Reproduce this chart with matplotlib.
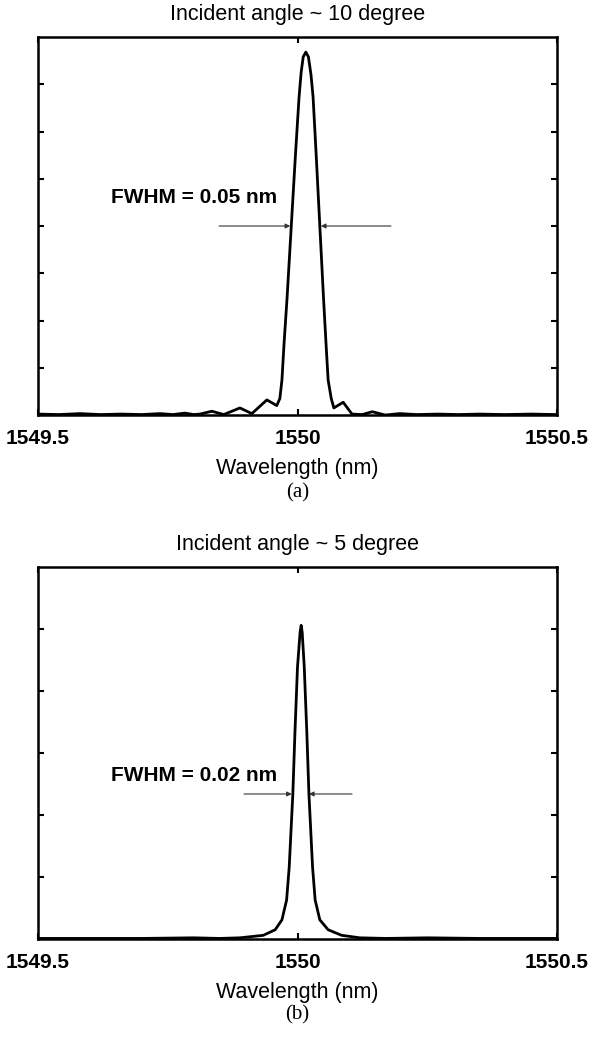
import matplotlib
matplotlib.use("Agg")
import matplotlib.pyplot as plt

# panel (a): incident angle ~10 degree
wl_a = [1549.500, 1549.540, 1549.581, 1549.620, 1549.660, 1549.700, 1549.735,
        1549.760, 1549.783, 1549.800, 1549.812, 1549.835, 1549.858, 1549.889,
        1549.912, 1549.941, 1549.960, 1549.966, 1549.970, 1549.974, 1549.980,
        1549.988, 1549.996, 1550.003, 1550.007, 1550.011, 1550.016, 1550.021,
        1550.026, 1550.030, 1550.036, 1550.043, 1550.050, 1550.055, 1550.059,
        1550.065, 1550.070, 1550.088, 1550.105, 1550.125, 1550.144, 1550.169,
        1550.197, 1550.230, 1550.270, 1550.310, 1550.350, 1550.400, 1550.450,
        1550.500]
amp_a = [0.02, 0.01, 0.03, 0.01, 0.02, 0.01, 0.03,
         0.01, 0.04, 0.01, 0.02, 0.08, 0.01, 0.15,
         0.03, 0.32, 0.20, 0.35, 0.74, 1.50, 2.50,
         4.00, 5.50, 6.73, 7.25, 7.58, 7.68, 7.58,
         7.20, 6.73, 5.50, 4.00, 2.50, 1.50, 0.74,
         0.35, 0.15, 0.27, 0.02, 0.01, 0.07, 0.00,
         0.03, 0.01, 0.02, 0.01, 0.02, 0.01, 0.02,
         0.01]

# panel (b): incident angle ~5 degree
wl_b = [1549.500, 1549.600, 1549.700, 1549.800, 1549.850, 1549.889, 1549.934,
        1549.957, 1549.970, 1549.979, 1549.984, 1549.991, 1549.995, 1550.000,
        1550.005, 1550.007, 1550.009, 1550.013, 1550.018, 1550.022, 1550.029,
        1550.034, 1550.043, 1550.059, 1550.085, 1550.120, 1550.170, 1550.250,
        1550.350, 1550.500]
amp_b = [0.01, 0.01, 0.01, 0.02, 0.01, 0.02, 0.06,
         0.15, 0.31, 0.63, 1.16, 2.34, 3.32, 4.39,
         4.95, 5.06, 4.95, 4.39, 3.32, 2.34, 1.16,
         0.63, 0.31, 0.15, 0.06, 0.02, 0.01, 0.02,
         0.01, 0.01]

xticks = [1549.5, 1550, 1550.5]
xtick_labels = ["1549.5", "1550", "1550.5"]

panels = [
    dict(x=wl_a, y=amp_a, ymax=8, title="Incident angle ~ 10 degree",
         fwhm="FWHM = 0.05 nm", arrow_y=4.0,
         left_arrow=(1549.849, 1549.986), right_arrow=(1550.180, 1550.045),
         text_y=4.6, tag="(a)",
         rect=[0.0641, 0.6017, 0.8752, 0.3628]),
    dict(x=wl_b, y=amp_b, ymax=6, title="Incident angle ~ 5 degree",
         fwhm="FWHM = 0.02 nm", arrow_y=2.34,
         left_arrow=(1549.897, 1549.989), right_arrow=(1550.105, 1550.022),
         text_y=2.64, tag="(b)",
         rect=[0.0641, 0.0988, 0.8752, 0.3570]),
]

plt.rcParams["font.family"] = ["Liberation Sans", "DejaVu Sans"]

fig = plt.figure(figsize=(5.93, 10.42), dpi=100)

for p in panels:
    ax = fig.add_axes(p["rect"])
    ax.plot(p["x"], p["y"], color="black", lw=2.0, solid_joinstyle="round")
    ax.set_xlim(1549.5, 1550.5)
    ax.set_ylim(0, p["ymax"])
    ax.set_xticks(xticks)
    ax.set_xticklabels(xtick_labels, fontsize=15, fontweight="bold")
    ax.set_yticks(range(1, p["ymax"]))
    ax.set_yticklabels([])
    ax.tick_params(direction="in", length=4, width=1.5, top=True, right=True, pad=10)
    for s in ax.spines.values():
        s.set_linewidth(1.8)
    ax.set_title(p["title"], fontsize=15.5, pad=12)
    ax.set_xlabel("Wavelength (nm)", fontsize=15.5, labelpad=7)

    # FWHM arrows
    ax.annotate("", xy=(p["left_arrow"][1], p["arrow_y"]),
                xytext=(p["left_arrow"][0], p["arrow_y"]),
                arrowprops=dict(arrowstyle="-|>", color="#333333", lw=0.8,
                                mutation_scale=7, shrinkA=0, shrinkB=0))
    ax.annotate("", xy=(p["right_arrow"][1], p["arrow_y"]),
                xytext=(p["right_arrow"][0], p["arrow_y"]),
                arrowprops=dict(arrowstyle="-|>", color="#333333", lw=0.8,
                                mutation_scale=7, shrinkA=0, shrinkB=0))
    ax.text(1549.64, p["text_y"], p["fwhm"], fontsize=15, fontweight="bold",
            va="center", ha="left")

    ax.text(0.5, -0.205, p["tag"], transform=ax.transAxes, ha="center", va="center",
            fontsize=15, family="Liberation Serif")

fig.savefig("out.png", dpi=100)
